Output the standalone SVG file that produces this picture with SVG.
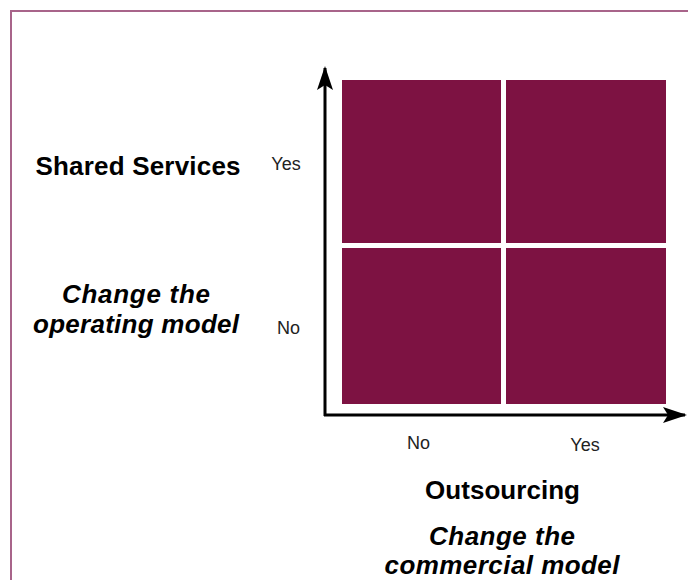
<svg xmlns="http://www.w3.org/2000/svg" width="688" height="580" viewBox="0 0 688 580">
  <style>
    .frame { fill: none; stroke: #a8648a; stroke-width: 2; }
    .cell { fill: #7d1242; }
    .axis { fill: none; stroke: #000; stroke-width: 3; }
    .title { font-family: "Liberation Sans", Arial, sans-serif; font-weight: bold; font-size: 26px; fill: #000; text-anchor: middle; }
    .sub { font-family: "Liberation Sans", Arial, sans-serif; font-weight: bold; font-style: italic; font-size: 26px; fill: #000; text-anchor: middle; }
    .tick { font-family: "Liberation Sans", Arial, sans-serif; font-size: 18px; fill: #222; text-anchor: middle; }
  </style>
  <defs>
    <marker id="arrow" viewBox="0 0 24 16" refX="22" refY="8" markerWidth="24" markerHeight="16" markerUnits="userSpaceOnUse" orient="auto">
      <path d="M0,0 L24,8 L0,16 L5,8 Z" fill="#000"/>
    </marker>
  </defs>

  <rect width="688" height="580" fill="#fff"/>

  <!-- page frame: top and left edges only -->
  <path class="frame" d="M11,600 L11,11 L700,11"/>

  <!-- 2x2 matrix cells -->
  <g id="cell-top-left"><rect class="cell" x="342" y="80" width="159" height="163"/></g>
  <g id="cell-top-right"><rect class="cell" x="506" y="80" width="160" height="163"/></g>
  <g id="cell-bottom-left"><rect class="cell" x="342" y="248" width="159" height="156"/></g>
  <g id="cell-bottom-right"><rect class="cell" x="506" y="248" width="160" height="156"/></g>

  <!-- axes -->
  <g id="connectors">
    <path class="axis" d="M325,416 L325,68" marker-end="url(#arrow)"/>
    <path class="axis" d="M324,415 L685,415" marker-end="url(#arrow)"/>
  </g>

  <!-- vertical axis labels -->
  <g id="label-shared-services">
    <text class="title" x="138" y="175" textLength="205" lengthAdjust="spacing">Shared Services</text>
  </g>
  <g id="label-operating-model">
    <text class="sub" x="136" y="303" textLength="148" lengthAdjust="spacing">Change the</text>
    <text class="sub" x="136" y="333" textLength="206" lengthAdjust="spacing">operating model</text>
  </g>
  <g id="tick-y-yes"><text class="tick" x="286" y="170">Yes</text></g>
  <g id="tick-y-no"><text class="tick" x="288.5" y="334">No</text></g>

  <!-- horizontal axis labels -->
  <g id="tick-x-no"><text class="tick" x="418.5" y="449">No</text></g>
  <g id="tick-x-yes"><text class="tick" x="585" y="451">Yes</text></g>
  <g id="label-outsourcing">
    <text class="title" x="502.5" y="499" textLength="155" lengthAdjust="spacing">Outsourcing</text>
  </g>
  <g id="label-commercial-model">
    <text class="sub" x="502" y="545" textLength="146" lengthAdjust="spacing">Change the</text>
    <text class="sub" x="502" y="574" textLength="235" lengthAdjust="spacing">commercial model</text>
  </g>
</svg>
